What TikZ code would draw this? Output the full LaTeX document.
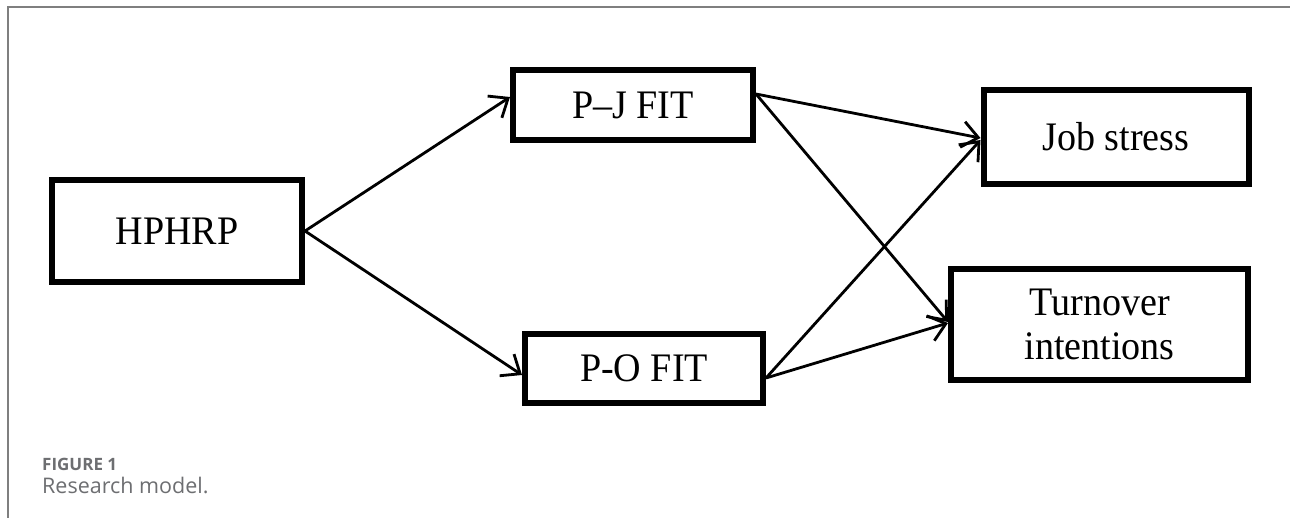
\documentclass[tikz,border=0pt]{standalone}
\usepackage{fontspec}
\setmainfont[FakeStretch=0.94]{Liberation Serif}
\newfontfamily\capfont{Open Sans}
\usetikzlibrary{arrows.meta,calc}
\definecolor{capgray}{HTML}{6D6E71}
\definecolor{framegray}{HTML}{7F7F7F}
\begin{document}
\begin{tikzpicture}[x=1pt,y=-1pt,
  box/.style={draw=black,line width=6pt,rectangle,fill=white,inner sep=0pt,
    font=\fontsize{40.5}{44}\selectfont,align=center},
  link/.style={line width=2.8pt,-{Straight Barb[length=16pt,width=26pt,line width=2.8pt]}},
  caphead/.style={anchor=base west,inner sep=0pt,text=capgray,font=\capfont\fontsize{17}{20}\selectfont\bfseries},
  captext/.style={anchor=base west,inner sep=0pt,text=capgray,font=\capfont\fontsize{21.5}{25}\selectfont}]
\useasboundingbox (0,0) rectangle (1290,518);
\draw[framegray,line width=1.8pt] (8,518) -- (8,7) -- (1290,7);
\node[box,minimum width=250pt,minimum height=102pt] (hp) at (177,231) {HPHRP};
\node[box,minimum width=240pt,minimum height=70pt] (pj) at (633,105) {P–J FIT};
\node[box,minimum width=238pt,minimum height=69pt] (po) at (644,368.5) {P-O FIT};
\node[box,minimum width=265pt,minimum height=94pt] (js) at (1116,137) {Job stress};
\node[box,minimum width=297pt,minimum height=111pt] (to) at (1099.5,324.5) {Turnover\\intentions};
\draw[link] (hp.east) -- ($(pj.west)+(0,-8)$);
\draw[link] (hp.east) -- ($(po.west)+(0,6.5)$);
\draw[link] ($(pj.east)+(0,-11)$) -- ($(js.west)+(0,1)$);
\draw[link] ($(pj.east)+(0,-11)$) -- ($(to.west)+(0,-2.5)$);
\draw[link] ($(po.east)+(0,9.5)$) -- ($(js.west)+(0,3)$);
\draw[link] ($(po.east)+(0,9.5)$) -- ($(to.west)+(0,-1.5)$);
\node[caphead] (fig) at (42,470) {FIGURE 1};
\node[captext] (cap) at (42,493) {Research model.};
\end{tikzpicture}
\end{document}
